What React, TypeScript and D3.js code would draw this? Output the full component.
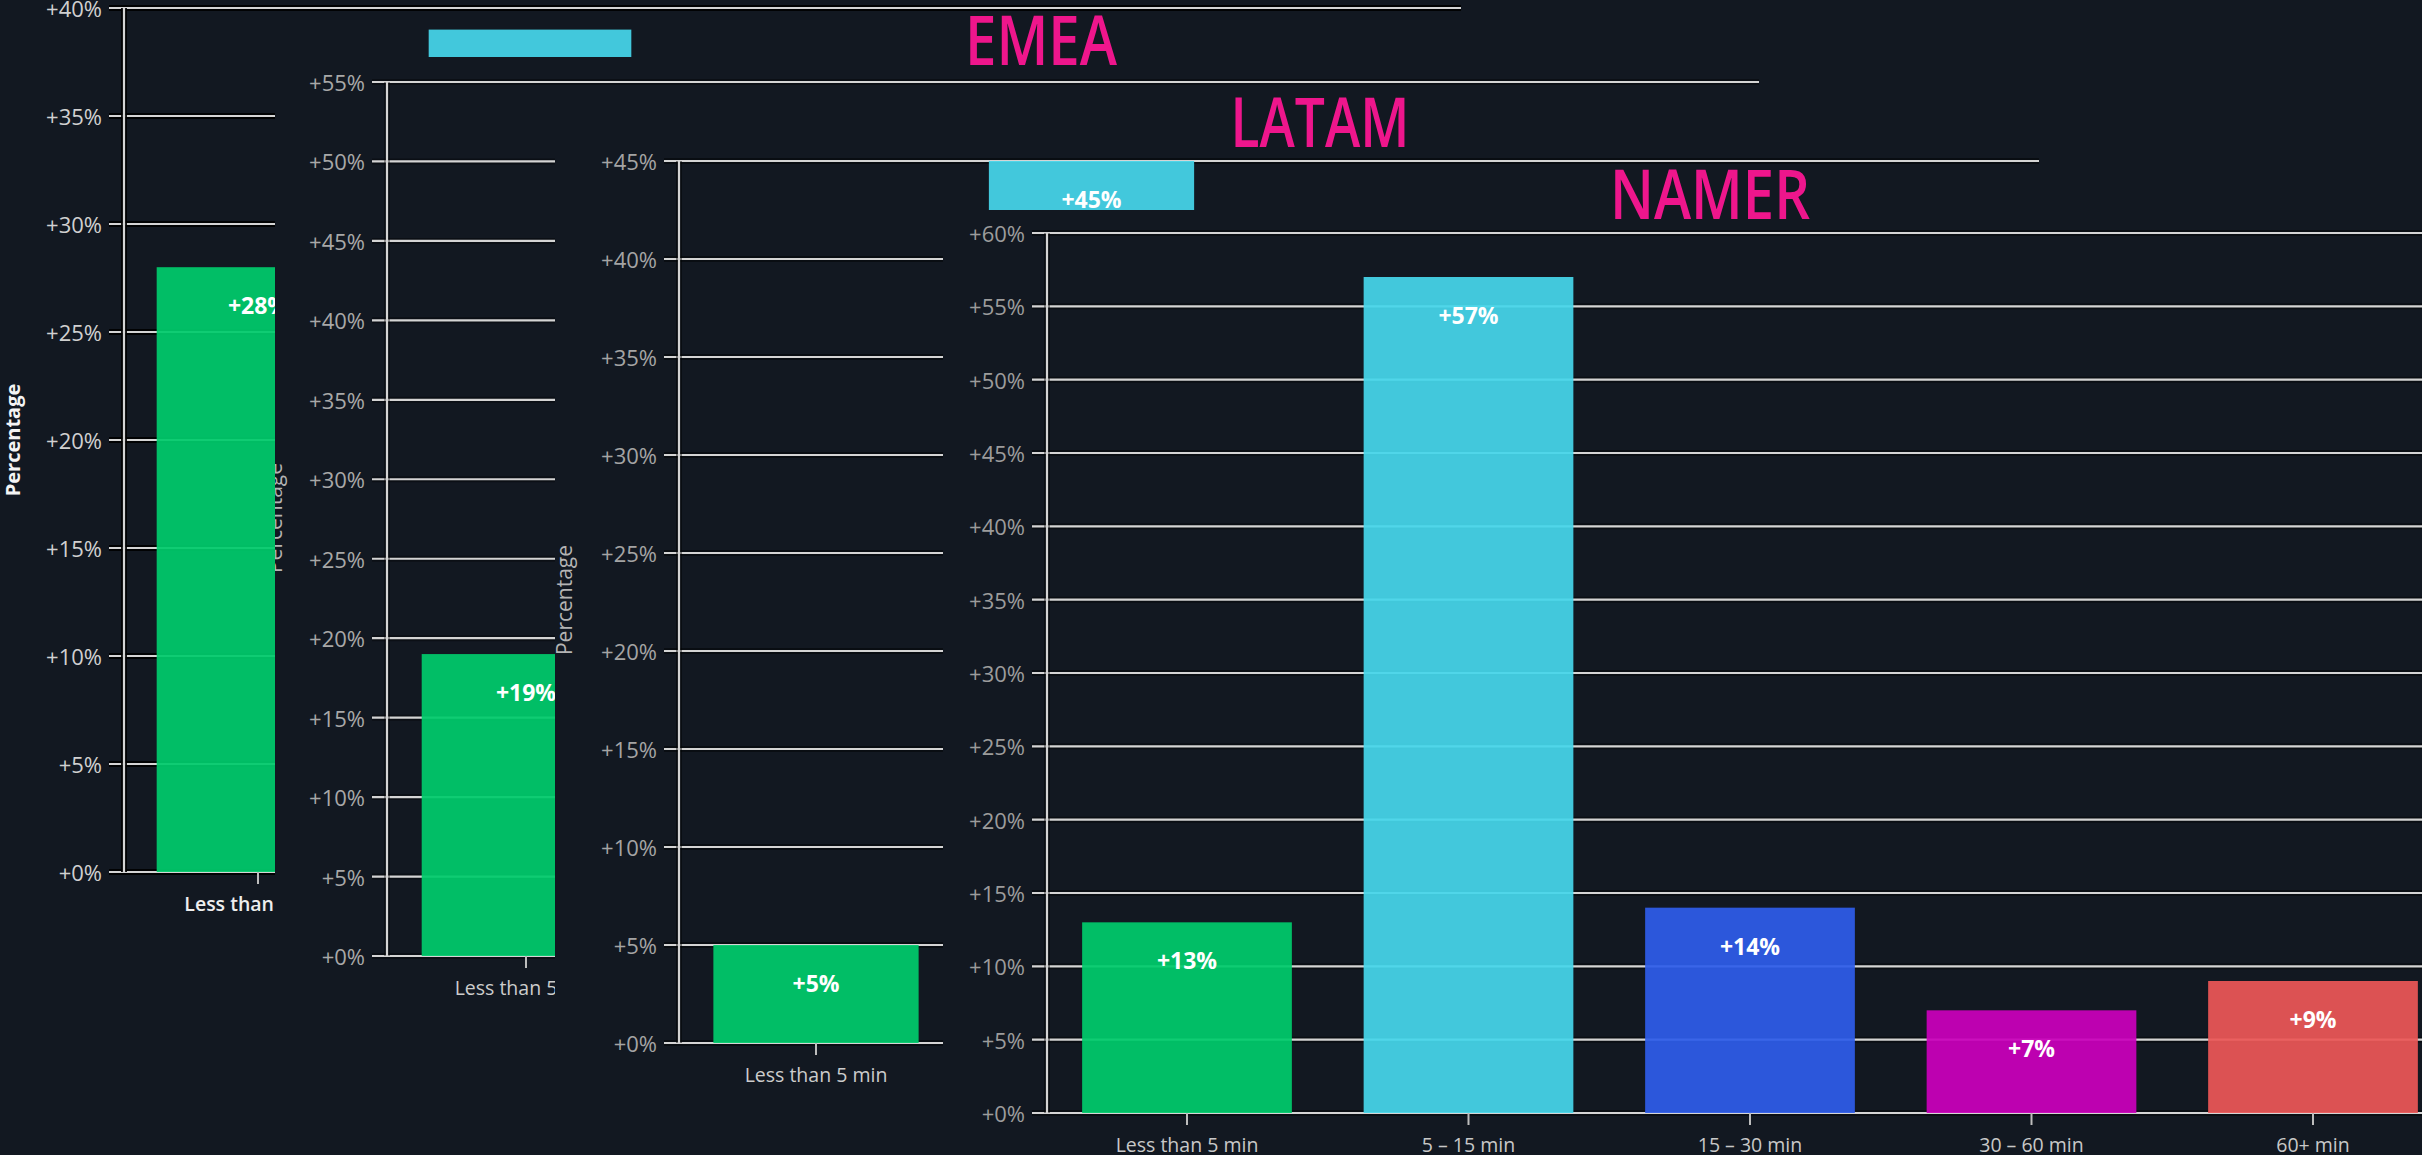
import { useEffect, useRef } from "react";
import * as d3 from "d3";

// ── Data ────────────────────────────────────────────────────────────────
const CATEGORIES = ["Less than 5 min", "5 – 15 min", "15 – 30 min", "30 – 60 min", "60+ min"];
const BAR_COLORS = ["#00cb6c", "#46d6eb", "#2e5cea", "#ca00bb", "#ec5757"];

// Panels overlap like stacked screenshots, so only the visible bars are listed.
const FIRST_VALUES = [28, 39];
const EMEA_VALUES = [19];
const LATAM_VALUES = [5, 45];
const NAMER_VALUES = [13, 57, 14, 7, 9];

const Y_MAX = [40, 55, 45, 60];
const TITLES = ["", "EMEA", "LATAM", "NAMER"];
const TICK_STEP = 5;

// ── Layout ──────────────────────────────────────────────────────────────
const W = 2422;
const H = 1155;
const BG = "#121821";
const FONT = "'Open Sans', 'Noto Sans', sans-serif";
const PINK = "#ee168c";
const PAD = 0.255;

const PANELS = [
  {
    values: FIRST_VALUES, clipX: 0, clipY: 0, axisX: 124, y0: 872, y1: 8,
    center0: 258, step: 272, gridEnd: 1461,
    yTitle: { x: 20, y: 440, weight: 700, color: "#f4f4f4" },
    tickColor: "#d0d0d0", catColor: "#eeeeee", catWeight: 600, halo: 0.9,
    title: null,
  },
  {
    values: EMEA_VALUES, clipX: 275, clipY: 57, axisX: 387, y0: 956, y1: 82,
    center0: 526, step: 280, gridEnd: 1759,
    yTitle: { x: 282, y: 518, weight: 400, color: "#b4b4b4" },
    tickColor: "#a8a8a8", catColor: "#cccccc", catWeight: 400, halo: 0.35,
    title: { cx: 1041, base: 65, w: 152 },
  },
  {
    values: LATAM_VALUES, clipX: 555, clipY: 88, axisX: 679, y0: 1043, y1: 161,
    center0: 816, step: 275.5, gridEnd: 2039,
    yTitle: { x: 572, y: 600, weight: 400, color: "#b4b4b4" },
    tickColor: "#a4a4a4", catColor: "#cccccc", catWeight: 400, halo: 0.45,
    title: { cx: 1320, base: 147, w: 179 },
  },
  {
    values: NAMER_VALUES, clipX: 943, clipY: 210, axisX: 1047, y0: 1113, y1: 233,
    center0: 1187, step: 281.5, gridEnd: 2440,
    yTitle: null,
    tickColor: "#9c9c9c", catColor: "#c8c8c8", catWeight: 400, halo: 0.4,
    title: { cx: 1710, base: 219, w: 200 },
  },
];

export default function App() {
  const svgRef = useRef<SVGSVGElement>(null);

  useEffect(() => {
    document.body.style.margin = "0";
    document.body.style.background = BG;
    if (!svgRef.current) return;

    const svg = d3.select(svgRef.current);
    svg.selectAll("*").remove();
    const defs = svg.append("defs");

    svg.append("rect").attr("width", W).attr("height", H).attr("fill", BG);

    PANELS.forEach((p, i) => {
      defs.append("clipPath").attr("id", `clip-${i}`)
        .append("rect")
        .attr("x", p.clipX).attr("y", p.clipY)
        .attr("width", W - p.clipX).attr("height", H - p.clipY);

      const g = svg.append("g").attr("clip-path", `url(#clip-${i})`);
      g.append("rect")
        .attr("x", p.clipX).attr("y", p.clipY)
        .attr("width", W - p.clipX).attr("height", H - p.clipY)
        .attr("fill", BG);

      const yMax = Y_MAX[i];
      const y = d3.scaleLinear().domain([0, yMax]).range([p.y0, p.y1]);
      const r0 = p.center0 - (p.step * (1 + PAD)) / 2;
      const x = d3.scaleBand<string>()
        .domain(CATEGORIES)
        .range([r0, r0 + p.step * (CATEGORIES.length + PAD)])
        .padding(PAD);
      const ticks = d3.range(0, yMax + TICK_STEP, TICK_STEP);

      // ── Gridlines (with the dark halo of the rescaled screenshot) ──
      const grid = g.append("g");
      grid.selectAll("line.halo")
        .data(ticks).enter().append("line")
        .attr("x1", p.axisX - 15).attr("x2", p.gridEnd)
        .attr("y1", (d) => y(d)).attr("y2", (d) => y(d))
        .attr("stroke", "#000").attr("stroke-opacity", p.halo).attr("stroke-width", 6);
      grid.selectAll("line.main")
        .data(ticks).enter().append("line")
        .attr("x1", p.axisX - 15).attr("x2", p.gridEnd)
        .attr("y1", (d) => y(d)).attr("y2", (d) => y(d))
        .attr("stroke", "#d4d4d4").attr("stroke-width", 2.2);

      // y axis line
      g.append("line")
        .attr("x1", p.axisX).attr("x2", p.axisX)
        .attr("y1", p.y1).attr("y2", p.y0)
        .attr("stroke", "#000").attr("stroke-opacity", p.halo).attr("stroke-width", 6);
      g.append("line")
        .attr("x1", p.axisX).attr("x2", p.axisX)
        .attr("y1", p.y1).attr("y2", p.y0)
        .attr("stroke", "#d4d4d4").attr("stroke-width", 2.2);

      // ── Bars ──
      const rows = p.values.map((v, k) => ({ cat: CATEGORIES[k], v, color: BAR_COLORS[k] }));
      g.selectAll("rect.bar")
        .data(rows).enter().append("rect")
        .attr("x", (d) => x(d.cat)!)
        .attr("y", (d) => y(d.v))
        .attr("width", x.bandwidth())
        .attr("height", (d) => y(0) - y(d.v))
        .attr("fill", (d) => d.color)
        .attr("fill-opacity", 0.93);

      g.selectAll("text.val")
        .data(rows).enter().append("text")
        .attr("x", (d) => x(d.cat)! + x.bandwidth() / 2)
        .attr("y", (d) => y(d.v) + 38)
        .attr("text-anchor", "middle")
        .attr("dominant-baseline", "central")
        .attr("font-family", FONT)
        .attr("font-size", 23)
        .attr("font-weight", 700)
        .attr("fill", "#ffffff")
        .text((d) => `+${d.v}%`);

      // ── Y tick labels ──
      g.selectAll("text.tick")
        .data(ticks).enter().append("text")
        .attr("x", p.axisX - 22)
        .attr("y", (d) => y(d))
        .attr("text-anchor", "end")
        .attr("dominant-baseline", "central")
        .attr("font-family", FONT)
        .attr("font-size", 22)
        .attr("fill", p.tickColor)
        .text((d) => `+${d}%`);

      // ── Category ticks and labels ──
      g.selectAll("line.cat")
        .data(CATEGORIES).enter().append("line")
        .attr("x1", (d) => x(d)! + x.bandwidth() / 2)
        .attr("x2", (d) => x(d)! + x.bandwidth() / 2)
        .attr("y1", p.y0).attr("y2", p.y0 + 12)
        .attr("stroke", "#bdbdbd").attr("stroke-width", 2);
      g.selectAll("text.cat")
        .data(CATEGORIES).enter().append("text")
        .attr("x", (d) => x(d)! + x.bandwidth() / 2)
        .attr("y", p.y0 + 31)
        .attr("text-anchor", "middle")
        .attr("dominant-baseline", "central")
        .attr("font-family", FONT)
        .attr("font-size", 19.5)
        .attr("font-weight", p.catWeight)
        .attr("fill", p.catColor)
        .text((d) => d);

      // ── Y axis title ──
      if (p.yTitle) {
        g.append("text")
          .attr("transform", `translate(${p.yTitle.x},${p.yTitle.y}) rotate(-90)`)
          .attr("text-anchor", "middle")
          .attr("font-family", FONT)
          .attr("font-size", p.yTitle.weight === 700 ? 20 : 21)
          .attr("font-weight", p.yTitle.weight)
          .attr("fill", p.yTitle.color)
          .text("Percentage");
      }

      // ── Region title (drawn unclipped, above the plot) ──
      if (p.title) {
        svg.append("text")
          .attr("x", p.title.cx - p.title.w / 2)
          .attr("y", p.title.base)
          .attr("textLength", p.title.w)
          .attr("lengthAdjust", "spacingAndGlyphs")
          .attr("font-family", FONT)
          .attr("font-size", 69)
          .attr("font-weight", 600)
          .attr("fill", PINK)
          .text(TITLES[i]);
      }
    });
  }, []);

  return (
    <svg ref={svgRef} width={W} height={H} style={{ display: "block" }} />
  );
}
